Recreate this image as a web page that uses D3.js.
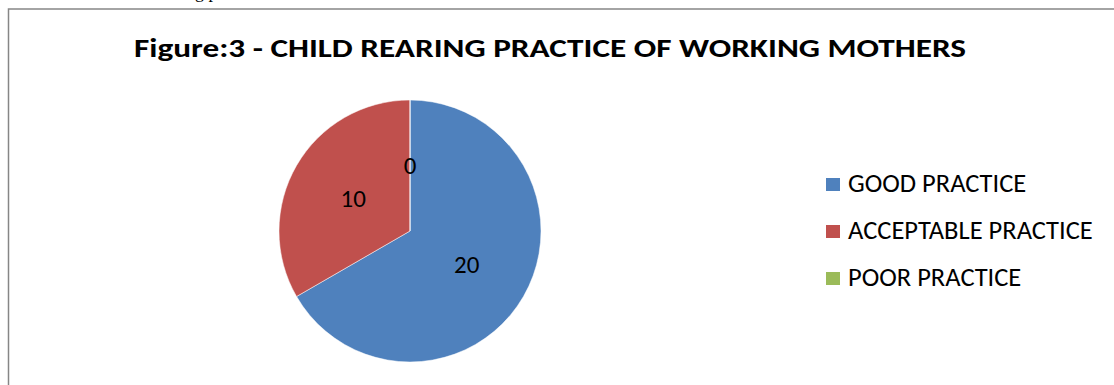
<!DOCTYPE html>
<html>
<head>
<meta charset="utf-8">
<script src="https://cdn.jsdelivr.net/npm/d3@7"></script>
<style>
  html, body { margin: 0; padding: 0; background: #fff; }
  svg { display: block; }
</style>
</head>
<body>
<svg id="chart" width="1114" height="385"></svg>
<script>
const categories = ["GOOD PRACTICE", "ACCEPTABLE PRACTICE", "POOR PRACTICE"];
const values = [20, 10, 0];
const colors = ["#4F81BD", "#C0504D", "#9BBB59"];
const title = "Figure:3 - CHILD REARING PRACTICE OF WORKING MOTHERS";

const svg = d3.select("#chart");
const font = "Carlito, Calibri, 'Open Sans', 'Liberation Sans', sans-serif";

// clipped document text above frame
svg.append("text")
  .attr("x", 186).attr("y", -2)
  .attr("font-family", "'Liberation Serif', serif")
  .attr("font-size", 18)
  .attr("fill", "#000")
  .text("ng p");

// chart frame
svg.append("path")
  .attr("d", "M8.5,385 V9 H1114")
  .attr("fill", "none")
  .attr("stroke", "#868686")
  .attr("stroke-width", 1.5);

// title
svg.append("text")
  .attr("x", 134).attr("y", 57)
  .attr("font-family", font)
  .attr("font-weight", "bold")
  .attr("font-size", 26)
  .attr("fill", "#000")
  .attr("textLength", 832)
  .attr("lengthAdjust", "spacingAndGlyphs")
  .text(title);

// pie
const cx = 410, cy = 231, r = 131;
const data = categories.map((c, i) => ({ name: c, value: values[i], color: colors[i] }));
const pie = d3.pie().sort(null).value(d => d.value);
const arcs = pie(data);
const arc = d3.arc().innerRadius(0).outerRadius(r);
const labelArc = d3.arc().innerRadius(r * 0.5).outerRadius(r * 0.5);

const g = svg.append("g").attr("transform", `translate(${cx},${cy})`);
g.selectAll("path.slice")
  .data(arcs)
  .enter().append("path")
  .attr("class", "slice")
  .attr("d", arc)
  .attr("fill", d => d.data.color)
  .attr("stroke", "#fff")
  .attr("stroke-width", 0.5);

g.selectAll("text.lbl")
  .data(arcs)
  .enter().append("text")
  .attr("class", "lbl")
  .attr("transform", d => {
    const [x, y] = labelArc.centroid(d);
    return `translate(${x},${y})`;
  })
  .attr("text-anchor", "middle")
  .attr("dy", "0.35em")
  .attr("font-family", font)
  .attr("font-size", 25)
  .attr("fill", "#000")
  .text(d => d.data.value);

// legend
const legend = svg.append("g").attr("transform", "translate(826,178)");
const items = legend.selectAll("g.item")
  .data(data)
  .enter().append("g")
  .attr("class", "item")
  .attr("transform", (d, i) => `translate(0,${i * 47})`);
items.append("rect")
  .attr("width", 14).attr("height", 13)
  .attr("fill", d => d.color);
items.append("text")
  .attr("x", 22).attr("y", 13.5)
  .attr("font-family", font)
  .attr("font-size", 26.5)
  .attr("fill", "#000")
  .text(d => d.name);
</script>
</body>
</html>
